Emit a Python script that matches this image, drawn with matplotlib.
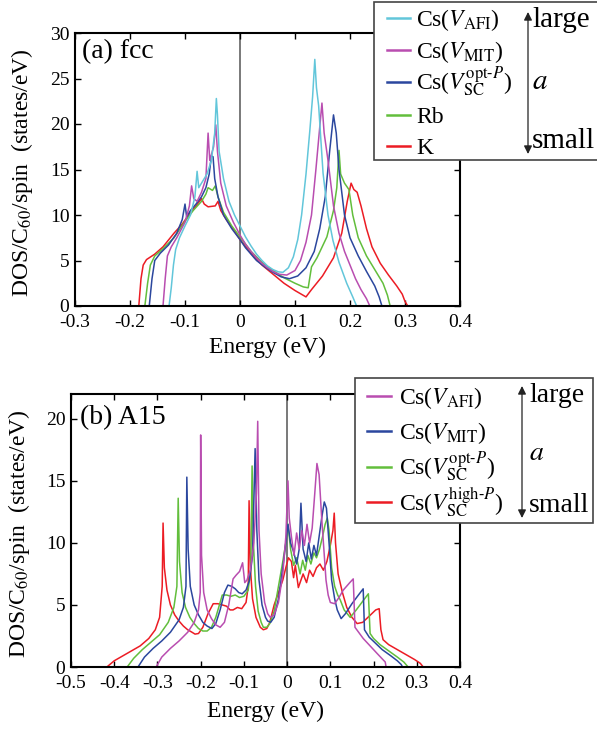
import matplotlib
matplotlib.use("Agg")
import matplotlib.pyplot as plt
from matplotlib.lines import Line2D
from matplotlib.patches import Rectangle

plt.rcParams['font.family'] = ['Liberation Serif', 'DejaVu Serif']
plt.rcParams['mathtext.fontset'] = 'stix'
plt.rcParams['axes.unicode_minus'] = False

HY = "\u2010"  # hyphen used inside the superscripts

# --- colours
c_cyan = "#62C6DA"
c_mag = "#B94DB0"
c_blue = "#2B479E"
c_green = "#62BE3C"
c_red = "#EC1C24"

# --- (a) fcc data, energy (eV) / DOS (states/eV)
fcc_afi_e = [-0.135, -0.129, -0.125, -0.121, -0.117, -0.11, -0.1, -0.09, -0.082, -0.078, -0.075, -0.07, -0.06,
             -0.052, -0.046, -0.043, -0.041, -0.038, -0.03, -0.02, -0.01, 0, 0.01, 0.02, 0.03, 0.04, 0.05, 0.06,
             0.07, 0.078, 0.088, 0.097, 0.105, 0.112, 0.12, 0.127, 0.132, 0.136, 0.139, 0.143, 0.151, 0.16,
             0.169, 0.18, 0.194, 0.205, 0.212, 0.22]
fcc_afi_dos = [0, 0, 2, 4.5, 6.2, 7.5, 8.8, 10, 12, 14.8, 13, 13.5, 14.5,
               16, 19, 22.8, 21, 17, 14, 11.5, 10, 8.8, 7.6, 6.6, 5.7, 5, 4.4, 4,
               3.75, 3.7, 4.2, 5.4, 7.3, 10, 14.5, 19.3, 23, 27.1, 24, 22, 14.6, 10,
               7.2, 4.8, 2.5, 1, 0, 0]

fcc_mit_e = [-0.145, -0.14, -0.136, -0.132, -0.125, -0.115, -0.1, -0.092, -0.088, -0.084, -0.078, -0.07, -0.062,
             -0.058, -0.055, -0.048, -0.044, -0.041, -0.035, -0.025, -0.012, 0, 0.01, 0.02, 0.03, 0.04, 0.05,
             0.06, 0.07, 0.085, 0.1, 0.11, 0.12, 0.13, 0.138, 0.144, 0.149, 0.153, 0.16, 0.17, 0.18, 0.19,
             0.2, 0.21, 0.22, 0.23, 0.236, 0.245]
fcc_mit_dos = [0, 0, 3, 5.5, 6.5, 7.5, 9.2, 11, 13.2, 11.8, 11.5, 12.5, 14,
               19, 16, 17.5, 19.9, 17, 13.5, 11, 9.2, 7.8, 6.8, 6, 5.3, 4.7, 4.2,
               3.8, 3.5, 3.4, 3.9, 5, 7, 10, 15, 19, 22.3, 19, 16, 11, 8, 6,
               4.5, 3, 1.8, 0.8, 0, 0]

fcc_opt_e = [-0.17, -0.165, -0.16, -0.155, -0.145, -0.13, -0.115, -0.105, -0.1, -0.097, -0.09, -0.08, -0.07,
             -0.062, -0.056, -0.052, -0.049, -0.046, -0.04, -0.03, -0.015, 0, 0.01, 0.02, 0.03, 0.045, 0.06,
             0.075, 0.09, 0.105, 0.12, 0.135, 0.145, 0.155, 0.163, 0.17, 0.175, 0.18, 0.19, 0.2, 0.215,
             0.23, 0.245, 0.253, 0.258, 0.265]
fcc_opt_dos = [0, 0, 3, 5, 5.8, 6.7, 8, 9.5, 11.2, 9.8, 10.5, 11.2, 12,
               13, 14.5, 16.5, 16.4, 14, 12, 10, 8.5, 7.3, 6.4, 5.7, 5, 4.3, 3.7,
               3.2, 3.0, 3.3, 4.2, 6, 8.5, 12, 17, 21, 19, 15, 10, 7.5, 5.5,
               3.8, 2.2, 1, 0, 0]

fcc_rb_e = [-0.178, -0.173, -0.168, -0.163, -0.155, -0.14, -0.12, -0.1, -0.085, -0.07, -0.062, -0.058, -0.05,
            -0.045, -0.04, -0.03, -0.015, 0, 0.02, 0.04, 0.06, 0.08, 0.1, 0.115, 0.124, 0.13, 0.14, 0.158,
            0.17, 0.176, 0.18, 0.183, 0.19, 0.198, 0.205, 0.215, 0.23, 0.245, 0.26, 0.268, 0.273, 0.28]
fcc_rb_dos = [0, 0, 2.5, 4.5, 5.5, 6.3, 7.5, 9.3, 10.5, 11.5, 12.3, 13, 12.7,
              13.2, 12, 10.3, 8.8, 7.6, 6, 4.8, 3.9, 3.1, 2.5, 2.1, 2.0, 4.3, 5.3, 7.6,
              10.5, 13, 17.1, 14.5, 13.5, 12.8, 10, 7.5, 5.5, 4, 2.5, 1.2, 0, 0]

fcc_k_e = [-0.19, -0.184, -0.18, -0.176, -0.17, -0.155, -0.14, -0.12, -0.105, -0.09, -0.08, -0.07, -0.065,
           -0.058, -0.045, -0.04, -0.035, -0.025, -0.012, 0, 0.02, 0.04, 0.06, 0.08, 0.1, 0.12, 0.13, 0.15,
           0.17, 0.185, 0.195, 0.202, 0.207, 0.213, 0.22, 0.23, 0.24, 0.255, 0.27, 0.285, 0.295, 0.3,
           0.305, 0.32]
fcc_k_dos = [0, 0, 3, 4.5, 5.1, 5.7, 6.5, 8, 9, 10.3, 11, 11.8, 11.2,
             10.9, 11, 11.5, 10.5, 9.5, 8.4, 7.3, 5.8, 4.5, 3.5, 2.5, 1.7, 1.0, 1.8, 3.3,
             5.3, 8, 11.5, 13.5, 12.8, 12.5, 11, 8.5, 6.5, 4.7, 3.4, 2.2, 1.3, 0.5,
             0, 0]

# --- (b) A15 data
a15_afi_e = [-0.31, -0.303, -0.29, -0.27, -0.25, -0.23, -0.215, -0.205, -0.201, -0.2, -0.198, -0.193, -0.185,
             -0.175, -0.165, -0.155, -0.145, -0.135, -0.125, -0.118, -0.11, -0.103, -0.098, -0.093, -0.085,
             -0.077, -0.071, -0.068, -0.065, -0.06, -0.052, -0.045, -0.039, -0.03, -0.02, -0.01, -0.003,
             0.002, 0.005, 0.01, 0.016, 0.022, 0.028, 0.034, 0.04, 0.046, 0.052, 0.058, 0.064, 0.069, 0.074,
             0.08, 0.085, 0.09, 0.095, 0.1, 0.11, 0.12, 0.13, 0.145, 0.153, 0.157, 0.176, 0.208, 0.227,
             0.229, 0.24]
a15_afi_dos = [0, 0, 0.8, 1.5, 2.1, 2.8, 3.6, 4.6, 6, 18.7, 9, 6, 4.6,
               3.9, 3.4, 3.2, 3.6, 5.0, 7.1, 7.4, 7.7, 8.4, 6.8, 7.0, 7.8,
               10, 14, 19.8, 11, 7.5, 5.2, 4.3, 4.0, 4.2, 5.2, 7.5, 10.5,
               15, 12, 10.5, 9, 10.8, 9.5, 11, 9.8, 11.5, 10, 11.2, 14, 16.4, 15.5,
               12, 9.5, 7, 5.8, 5.2, 5.1, 5.6, 6.2, 6.8, 7.1, 3.2, 2.3, 1.1, 0.4,
               0, 0]

a15_mit_e = [-0.35, -0.345, -0.33, -0.31, -0.29, -0.27, -0.25, -0.24, -0.234, -0.232, -0.229, -0.224, -0.215,
             -0.205, -0.195, -0.185, -0.174, -0.165, -0.155, -0.145, -0.137, -0.128, -0.12, -0.112, -0.104,
             -0.095, -0.087, -0.08, -0.074, -0.07, -0.065, -0.058, -0.05, -0.045, -0.038, -0.03, -0.02,
             -0.01, -0.003, 0.002, 0.008, 0.015, 0.022, 0.028, 0.032, 0.037, 0.044, 0.05, 0.056, 0.062,
             0.068, 0.074, 0.08, 0.086, 0.091, 0.097, 0.103, 0.11, 0.116, 0.125, 0.135, 0.15, 0.165, 0.176,
             0.179, 0.19, 0.205, 0.22, 0.24, 0.255, 0.264, 0.267, 0.275]
a15_mit_dos = [0, 0, 0.8, 1.5, 2.1, 2.8, 3.8, 4.8, 6.5, 15.3, 9.5, 6.5, 5.0,
               4.2, 3.6, 3.3, 3.1, 3.5, 4.6, 6.0, 6.6, 6.5, 6.3, 6.0, 5.9,
               6.2, 7.0, 9.0, 17.6, 11, 7, 5, 4, 3.7, 3.6, 4.0, 5.5,
               8.0, 10, 11.5, 10, 9.3, 8.3, 9.5, 13.2, 9.5, 8.5, 10, 8.7, 9.8,
               9, 10.5, 12, 13.3, 12.8, 10, 7, 5.5, 4.6, 3.9, 4.3, 5.1, 5.8, 6.3,
               3.0, 2.4, 1.9, 1.4, 0.9, 0.5, 0.2, 0, 0]

a15_opt_e = [-0.375, -0.37, -0.355, -0.335, -0.315, -0.295, -0.275, -0.262, -0.255, -0.252, -0.249, -0.243,
             -0.235, -0.225, -0.215, -0.205, -0.195, -0.185, -0.175, -0.165, -0.155, -0.15, -0.14, -0.13,
             -0.12, -0.11, -0.1, -0.09, -0.084, -0.081, -0.078, -0.073, -0.067, -0.06, -0.055, -0.047, -0.04,
             -0.03, -0.02, -0.01, -0.003, 0.002, 0.008, 0.015, 0.022, 0.03, 0.036, 0.042, 0.048, 0.055, 0.062,
             0.068, 0.075, 0.082, 0.088, 0.093, 0.097, 0.103, 0.11, 0.117, 0.123, 0.132, 0.146, 0.16, 0.175,
             0.188, 0.192, 0.2, 0.215, 0.235, 0.255, 0.27, 0.28, 0.29]
a15_opt_dos = [0, 0, 0.7, 1.4, 2.0, 2.6, 3.6, 4.8, 6.5, 13.6, 8.5, 6,
               4.8, 4.0, 3.5, 3.1, 2.9, 2.9, 3.2, 4.0, 5.2, 5.8, 5.8, 5.7,
               5.8, 5.6, 5.7, 6.2, 8, 16.2, 10, 6.5, 4.5, 3.6, 3.2, 3.2, 3.5,
               4.5, 6.5, 8.5, 10, 11.5, 9.5, 8.2, 8.8, 7.5, 8.6, 7.8, 9, 8.3, 9.2,
               8.8, 9.5, 10.5, 11.5, 12, 11, 8, 6.5, 5.8, 5.4, 4.6, 4.0, 4.6, 5.3,
               5.9, 2.7, 2.3, 1.8, 1.3, 0.8, 0.4, 0, 0]

a15_high_e = [-0.425, -0.417, -0.4, -0.38, -0.36, -0.34, -0.32, -0.305, -0.295, -0.289, -0.287, -0.284, -0.278,
              -0.27, -0.26, -0.25, -0.24, -0.23, -0.22, -0.213, -0.205, -0.195, -0.183, -0.171, -0.16, -0.15,
              -0.14, -0.132, -0.125, -0.115, -0.105, -0.095, -0.09, -0.088, -0.085, -0.08, -0.072, -0.062,
              -0.055, -0.047, -0.04, -0.03, -0.02, -0.01, -0.003, 0.003, 0.01, 0.015, 0.019, 0.026, 0.032,
              0.037, 0.045, 0.052, 0.06, 0.068, 0.076, 0.084, 0.092, 0.1, 0.106, 0.109, 0.112, 0.118, 0.128,
              0.138, 0.15, 0.162, 0.175, 0.19, 0.205, 0.213, 0.217, 0.222, 0.235, 0.25, 0.265, 0.28, 0.295,
              0.308, 0.315, 0.325]
a15_high_dos = [0, 0, 0.5, 0.9, 1.3, 1.7, 2.3, 3.0, 4.0, 6.5, 11.6, 8, 6.2,
                5.0, 4.2, 3.7, 3.3, 3.0, 2.8, 2.65, 2.7, 3.2, 4.3, 5.1, 5.1, 5.0,
                4.9, 4.6, 4.6, 4.8, 4.7, 5.2, 6.5, 13.4, 8, 5.5, 4.0, 3.2,
                3.0, 3.1, 3.6, 5.0, 6.0, 7.0, 8.0, 8.8, 8.5, 7.2, 8.2, 6.4, 7.0,
                7.5, 6.8, 7.8, 7.3, 8.0, 8.3, 7.8, 8.5, 9.8, 11, 12.4, 10, 7.5, 6.0,
                4.8, 4.0, 3.5, 3.6, 4.1, 4.6, 4.7, 3.0, 2.2, 1.8, 1.5, 1.2, 0.9, 0.6,
                0.3, 0, 0]

fcc_xticks = [-0.3, -0.2, -0.1, 0, 0.1, 0.2, 0.3, 0.4]
fcc_xlabels = ["-0.3", "-0.2", "-0.1", "0", "0.1", "0.2", "0.3", "0.4"]
fcc_yticks = [0, 5, 10, 15, 20, 25, 30]
a15_xticks = [-0.5, -0.4, -0.3, -0.2, -0.1, 0, 0.1, 0.2, 0.3, 0.4]
a15_xlabels = ["-0.5", "-0.4", "-0.3", "-0.2", "-0.1", "0", "0.1", "0.2", "0.3", "0.4"]
a15_yticks = [0, 5, 10, 15, 20]

lab_afi = r"Cs($V_{\mathrm{AFI}}$)"
lab_mit = r"Cs($V_{\mathrm{MIT}}$)"
lab_opt = r"Cs($V_{\mathrm{SC}}^{\mathrm{opt" + HY + r"}P}$)"
lab_high = r"Cs($V_{\mathrm{SC}}^{\mathrm{high" + HY + r"}P}$)"

fcc_series = [
    (fcc_k_e, fcc_k_dos, c_red, "K"),
    (fcc_rb_e, fcc_rb_dos, c_green, "Rb"),
    (fcc_opt_e, fcc_opt_dos, c_blue, lab_opt),
    (fcc_mit_e, fcc_mit_dos, c_mag, lab_mit),
    (fcc_afi_e, fcc_afi_dos, c_cyan, lab_afi),
]
a15_series = [
    (a15_high_e, a15_high_dos, c_red, lab_high),
    (a15_opt_e, a15_opt_dos, c_green, lab_opt),
    (a15_mit_e, a15_mit_dos, c_blue, lab_mit),
    (a15_afi_e, a15_afi_dos, c_mag, lab_afi),
]

W, H = 597, 729
fig = plt.figure(figsize=(W / 100, H / 100), dpi=100)


def fx(px):
    return px / W


def fy(py):
    return 1 - py / H


def style_axes(ax, xticks, xlabels, yticks, xlim, ylim, ylab_x, xpad):
    ax.set_xlim(*xlim)
    ax.set_ylim(*ylim)
    ax.set_xticks(xticks)
    ax.set_xticklabels(xlabels)
    ax.set_yticks(yticks)
    ax.tick_params(direction="in", top=True, right=True, length=4, width=1.0,
                   labelsize=14, pad=4)
    ax.tick_params(axis="x", pad=6)
    for s in ax.spines.values():
        s.set_linewidth(1.5)
    ax.axvline(0, color="#555555", lw=1.1, zorder=1)
    ax.set_xlabel("Energy (eV)", fontsize=17, labelpad=xpad)
    ax.set_ylabel(r"DOS/C$_{60}$/spin  (states/eV)", fontsize=17)
    ax.yaxis.set_label_coords(ylab_x, 0.49)


# -- (a) fcc
ax1 = fig.add_axes([fx(75), fy(306), fx(460) - fx(75), fy(33) - fy(306)])
for e, d, c, lab in fcc_series:
    ax1.plot(e, d, color=c, lw=1.1, zorder=2)
style_axes(ax1, fcc_xticks, fcc_xlabels, fcc_yticks, (-0.3, 0.4), (0, 30), -0.105, 4)
ax1.text(0.018, 0.978, "(a) fcc", transform=ax1.transAxes, ha="left", va="top", fontsize=20)

# -- (b) A15
ax2 = fig.add_axes([fx(71), fy(667), fx(460) - fx(71), fy(394) - fy(667)])
for e, d, c, lab in a15_series:
    ax2.plot(e, d, color=c, lw=1.1, zorder=2)
style_axes(ax2, a15_xticks, a15_xlabels, a15_yticks, (-0.5, 0.4), (0, 22), -0.1, 6)
ax2.text(0.022, 0.96, "(b) A15", transform=ax2.transAxes, ha="left", va="top", fontsize=20)


def draw_key(series, box, line_ys, line_x, text_x, arrow_x, arrow_y, word_x, word_ys, wsize):
    x0, y0, x1, y1 = box
    fig.add_artist(Rectangle((fx(x0), fy(y1)), fx(x1) - fx(x0), fy(y0) - fy(y1),
                             transform=fig.transFigure, facecolor="white",
                             edgecolor="#444444", lw=1.2, zorder=5))
    for (e, d, c, lab), ly in zip(series, line_ys):
        fig.add_artist(Line2D([fx(line_x[0]), fx(line_x[1])], [fy(ly), fy(ly)],
                              transform=fig.transFigure, color=c, lw=1.8, zorder=6))
        fig.text(fx(text_x), fy(ly + 8), lab, ha="left", va="baseline", fontsize=17, zorder=6)
    arr = fig.add_artist(plt.Annotation("", xy=(fx(arrow_x), fy(arrow_y[0])),
                                        xytext=(fx(arrow_x), fy(arrow_y[1])),
                                        xycoords="figure fraction", textcoords="figure fraction",
                                        arrowprops=dict(arrowstyle="<|-|>", color="#222222", lw=0.9,
                                                        mutation_scale=12, shrinkA=0, shrinkB=0)))
    arr.set_zorder(6)
    for word, wy in zip(["large", "$a$", "small"], word_ys):
        fig.text(fx(word_x), fy(wy), word, ha="left", va="center", fontsize=wsize, zorder=6)


draw_key(fcc_series[::-1], (374, 2, 605, 160), [18, 50, 82, 115, 146], (387, 410), 416,
         528, (12, 154), 532, [20, 82, 141], 21)
draw_key(a15_series[::-1], (355, 378, 593, 523), [396, 431, 467, 502], (367, 391), 399,
         522, (386, 518), 529, [395, 454, 505], 20)

fig.savefig("out.png", dpi=100, facecolor="white")
